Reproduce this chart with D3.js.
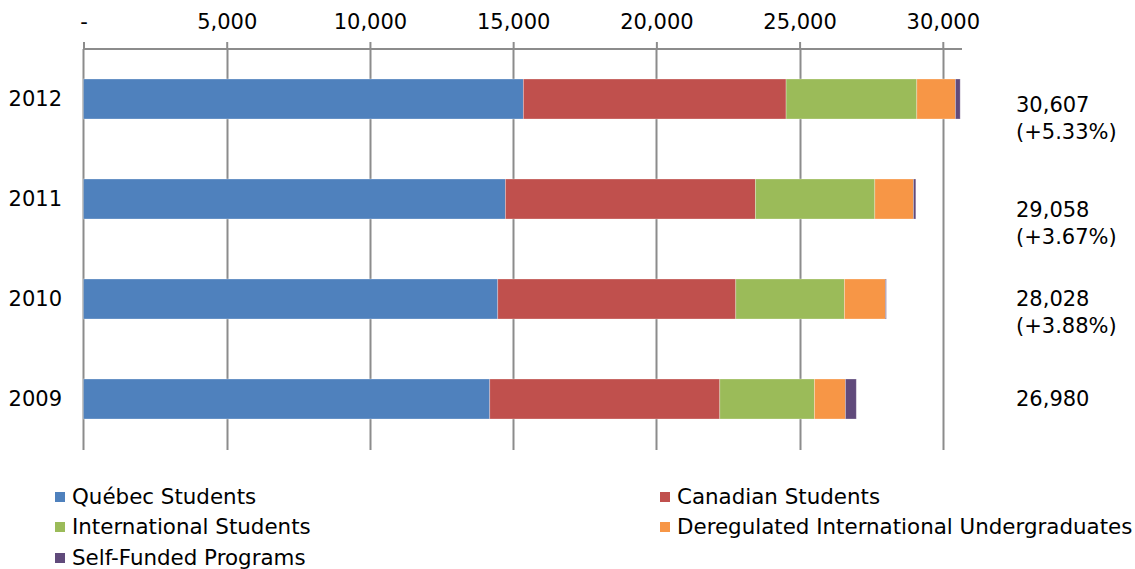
<!DOCTYPE html>
<html>
<head>
<meta charset="utf-8">
<script src="https://cdn.jsdelivr.net/npm/d3@7"></script>
<style>
  html, body { margin: 0; padding: 0; background: #fff; }
  svg { display: block; }
  text { font-family: "DejaVu Sans", Verdana, sans-serif; fill: #000; }
</style>
</head>
<body>
<svg id="chart" width="1135" height="569"></svg>
<script>
// ---- data ----
const years = ["2012", "2011", "2010", "2009"];
const seriesNames = ["Québec Students", "Canadian Students", "International Students",
                     "Deregulated International Undergraduates", "Self-Funded Programs"];
const quebec       = [15356, 14729, 14462, 14183];
const canadian     = [9173, 8728, 8310, 8031];
const international= [4563, 4169, 3793, 3304];
const deregulated  = [1348, 1348, 1431, 1082];
const selfFunded   = [167, 84, 32, 380];
const totals       = ["30,607", "29,058", "28,028", "26,980"];
const growth       = ["(+5.33%)", "(+3.67%)", "(+3.88%)", ""];
const tickValues   = [0, 5000, 10000, 15000, 20000, 25000, 30000];
const tickLabels   = ["-", "5,000", "10,000", "15,000", "20,000", "25,000", "30,000"];
const colors       = ["#4f81bd", "#c0504d", "#9bbb59", "#f79646", "#604a7b"];

(function () {
// ---- layout ----
const svg = d3.select("#chart");
const mLeft = 83.5, mRight = 962, mTop = 49, mBottom = 449;
const x = d3.scaleLinear().domain([0, 30670]).range([mLeft, mRight]);
const y = d3.scaleBand().domain(years).range([mTop, mBottom]).paddingInner(0.6).paddingOuter(0.3);
const fs = 21;
const fsLegend = 21.4;

const seriesValues = [quebec, canadian, international, deregulated, selfFunded];
const rows = years.map((yr, i) => {
  const o = { year: yr };
  seriesNames.forEach((s, j) => o[s] = seriesValues[j][i]);
  return o;
});
const stacked = d3.stack().keys(seriesNames)(rows);

// gridlines
svg.append("g").selectAll("line").data(tickValues.slice(1)).join("line")
  .attr("x1", d => Math.round(x(d)) + 0.5).attr("x2", d => Math.round(x(d)) + 0.5)
  .attr("y1", mTop).attr("y2", 450)
  .attr("stroke", "#8c8c8c").attr("stroke-width", 2);

// left axis line
svg.append("line").attr("x1", mLeft).attr("x2", mLeft).attr("y1", mTop).attr("y2", 450)
  .attr("stroke", "#8c8c8c").attr("stroke-width", 2);

// top axis
const axis = d3.axisTop(x).tickValues(tickValues).tickFormat((d, i) => tickLabels[i])
  .tickSize(7).tickPadding(13);
const gAxis = svg.append("g").attr("transform", `translate(0,${mTop})`).call(axis);
gAxis.select(".domain").attr("stroke", "#8c8c8c").attr("stroke-width", 2)
  .attr("d", `M${mLeft},0H${mRight}`);
gAxis.selectAll(".tick line").attr("stroke", "#8c8c8c").attr("stroke-width", 2);
gAxis.selectAll(".tick text").attr("font-size", fs).attr("font-family", "DejaVu Sans, Verdana, sans-serif").attr("fill", "#000");

// bars
svg.append("g").selectAll("g").data(stacked).join("g")
  .attr("fill", (d, i) => colors[i])
  .selectAll("rect").data(d => d).join("rect")
  .attr("x", d => x(d[0]))
  .attr("width", d => Math.max(0, x(d[1]) - x(d[0])))
  .attr("y", d => y(d.data.year))
  .attr("height", y.bandwidth())
  .attr("stroke", "#ffffff").attr("stroke-opacity", 0.35).attr("stroke-width", 0.8);

// category labels
svg.append("g").selectAll("text").data(years).join("text")
  .attr("x", 62).attr("y", d => y(d) + y.bandwidth() / 2)
  .attr("dy", "0.35em").attr("text-anchor", "end").attr("font-size", fs)
  .text(d => d);

// totals labels (text boxes)
const labelOffsets = [13, 18, 7, 7];
const gl = svg.append("g");
years.forEach((yr, i) => {
  const cy = y(yr) + y.bandwidth() / 2;
  gl.append("text").attr("x", 1016).attr("y", cy + labelOffsets[i]).attr("font-size", fs).text(totals[i]);
  if (growth[i]) gl.append("text").attr("x", 1016).attr("y", cy + labelOffsets[i] + 27).attr("font-size", fs).text(growth[i]);
});

// legend
const legendPos = [[55, 497], [660, 497], [55, 527], [660, 527], [55, 558]];
const lg = svg.append("g");
seriesNames.forEach((s, i) => {
  const [lx, ly] = legendPos[i];
  lg.append("rect").attr("x", lx).attr("y", ly - 5).attr("width", 10).attr("height", 10).attr("fill", colors[i]);
  lg.append("text").attr("x", lx + 17).attr("y", ly).attr("dy", "0.35em").attr("font-size", fsLegend).text(s);
});
})();
</script>
</body>
</html>
